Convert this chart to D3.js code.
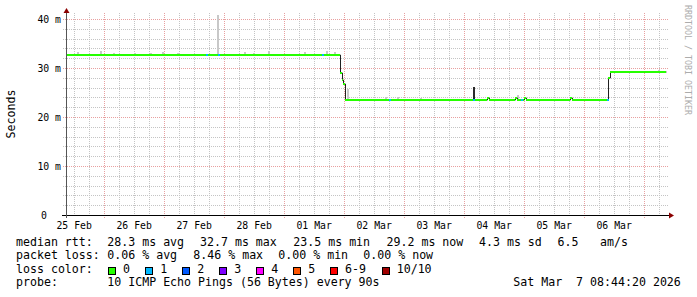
<!DOCTYPE html>
<html>
<head>
<meta charset="utf-8">
<script src="https://cdn.jsdelivr.net/npm/d3@7"></script>
<style>
  html, body { margin: 0; padding: 0; background: #fff; }
  svg { display: block; }
  text { font-family: "DejaVu Sans Mono", monospace; fill: #000; }
</style>
</head>
<body>
<svg id="chart" width="697" height="297"></svg>
<script>
// === Data ===
const startTime = "2026-02-25T08:44:20Z";
const endTime = "2026-03-07T08:44:20Z";

// median rtt in ms, step changes
const medianTimes = [
  "2026-02-25T08:44:20Z", "2026-03-01T22:12Z", "2026-03-01T23:05Z", "2026-03-01T23:36Z",
  "2026-03-02T00:12Z", "2026-03-04T09:12Z", "2026-03-04T10:00Z", "2026-03-04T20:12Z",
  "2026-03-04T21:00Z", "2026-03-04T23:48Z", "2026-03-05T00:36Z", "2026-03-05T18:12Z",
  "2026-03-05T19:00Z", "2026-03-06T09:36Z", "2026-03-06T10:31Z", "2026-03-07T08:44:20Z"
];
const medianValues = [
  32.7, 28.9, 27.5, 26.7,
  23.5, 23.9, 23.5, 23.9,
  23.5, 23.9, 23.5, 23.9,
  23.5, 27.9, 29.2, 29.2
];

// samples with lost pings (out of 10)
const lossTimes = [
  "2026-02-27T16:48Z", "2026-02-27T21:24Z", "2026-03-01T15:04Z", "2026-03-02T17:53Z",
  "2026-03-04T03:24Z", "2026-03-04T22:36Z", "2026-03-06T09:04Z"
];
const lossCounts = [1, 1, 1, 1, 1, 1, 1];

// smoke (spread of the pings), top value in ms
const smokeTimes = [
  "2026-02-25T13:12Z", "2026-02-25T22:24Z", "2026-02-26T03:36Z", "2026-02-26T12:00Z",
  "2026-02-26T18:24Z", "2026-02-26T23:12Z", "2026-02-27T05:12Z", "2026-02-27T21:12Z",
  "2026-02-28T08:00Z", "2026-02-28T11:36Z", "2026-02-28T17:36Z", "2026-03-01T08:00Z",
  "2026-03-01T16:48Z", "2026-03-01T20:00Z", "2026-03-02T01:00Z", "2026-03-02T16:24Z",
  "2026-03-02T21:00Z", "2026-03-03T06:24Z", "2026-03-04T03:24Z", "2026-03-04T21:12Z",
  "2026-03-07T05:36Z"
];
const smokeTops = [
  33.3, 33.5, 33.1, 33.1,
  33.1, 33.2, 33.0, 40.8,
  33.3, 33.1, 33.4, 33.3,
  33.4, 33.2, 25.8, 24.0,
  24.0, 23.9, 26.1, 24.5,
  29.6
];
const smokeDark = [
  false, false, false, false,
  false, false, false, false,
  false, false, false, false,
  false, false, false, false,
  false, false, true, false,
  false
];

const yTicks = [0, 10, 20, 30, 40];
const dayLabels = [
  "2026-02-25", "2026-02-26", "2026-02-27", "2026-02-28", "2026-03-01",
  "2026-03-02", "2026-03-03", "2026-03-04", "2026-03-05", "2026-03-06"
];

const lossLabels = ["0", "1", "2", "3", "4", "5", "6-9", "10/10"];
const lossColors = ["#26ff00", "#00b8ff", "#0059ff", "#7e00ff", "#ff00ff", "#ff5500", "#ff0000", "#a10000"];

const rttLegend = ["28.3 ms avg", "32.7 ms max", "23.5 ms min", "29.2 ms now", "4.3 ms sd", "6.5", "am/s"];
const lossLegend = ["0.06 % avg", "8.46 % max", "0.00 % min", "0.00 % now"];
const probeText = "10 ICMP Echo Pings (56 Bytes) every 90s";
const stampText = "Sat Mar  7 08:44:20 2026";


// === Layout ===
const svg = d3.select("#chart");
const plotTop = 13;
const plotBottom = 215;

const xScale = d3.scaleUtc()
  .domain([new Date(startTime), new Date(endTime)])
  .range([66, 666]);

const yScale = d3.scaleLinear()
  .domain([0, 40])
  .range([215, 19]);

const px = v => Math.round(v) + 0.5;   // crisp 1px lines

const medianDates = medianTimes.map(t => new Date(t));
function medianAt(date) {
  const i = Math.max(0, d3.bisectRight(medianDates, date) - 1);
  return medianValues[i];
}
function lossIndex(count) {
  if (count >= 10) return 7;
  if (count >= 6) return 6;
  return count;
}
const sampleMs = 48 * 60 * 1000;


// === Grid ===
const grid = svg.append("g");
const start = new Date(startTime), end = new Date(endTime);

// minor: every 2 ms / every 6 h
d3.range(2, 41, 2).filter(v => v % 10 !== 0).forEach(v => {
  grid.append("line")
    .attr("x1", 63).attr("x2", 669)
    .attr("y1", px(yScale(v))).attr("y2", px(yScale(v)))
    .attr("stroke", "#c4c4c4").attr("stroke-dasharray", "1,1");
});
d3.utcHour.every(6).range(start, end).filter(d => d.getUTCHours() !== 0).forEach(d => {
  grid.append("line")
    .attr("x1", px(xScale(d))).attr("x2", px(xScale(d)))
    .attr("y1", plotTop).attr("y2", 217)
    .attr("stroke", "#c4c4c4").attr("stroke-dasharray", "1,1");
});

// major: every 10 ms / every day
yTicks.filter(v => v > 0).forEach(v => {
  grid.append("line")
    .attr("x1", 63).attr("x2", 669)
    .attr("y1", px(yScale(v))).attr("y2", px(yScale(v)))
    .attr("stroke", "#e8a0a0").attr("stroke-dasharray", "1,1");
});
d3.utcDay.range(start, end).forEach(d => {
  grid.append("line")
    .attr("x1", px(xScale(d))).attr("x2", px(xScale(d)))
    .attr("y1", plotTop).attr("y2", 218)
    .attr("stroke", "#e8a0a0").attr("stroke-dasharray", "1,1");
});


// === Smoke ===
smokeTimes.forEach((t, i) => {
  const d = new Date(t);
  const x0 = Math.round(xScale(d));
  const yTop = Math.round(yScale(smokeTops[i]));
  const yBase = Math.round(yScale(medianAt(d)));
  svg.append("rect")
    .attr("x", x0)
    .attr("y", yTop)
    .attr("width", 2)
    .attr("height", Math.max(1, yBase - yTop))
    .attr("fill", smokeDark[i] ? "#2a2a2a" : "#c8c8c8");
});


// === Median line (dark connector) ===
const stepLine = d3.line()
  .x(d => px(xScale(d.date)))
  .y(d => Math.round(yScale(d.value)))
  .curve(d3.curveStepAfter);

const medianData = medianDates.map((date, i) => ({ date, value: medianValues[i] }));

svg.append("path")
  .datum(medianData)
  .attr("d", stepLine)
  .attr("fill", "none")
  .attr("stroke", "#202020")
  .attr("stroke-width", 1);

// loss coloured median segments
medianData.slice(0, -1).forEach((d, i) => {
  const next = medianData[i + 1];
  svg.append("line")
    .attr("x1", Math.round(xScale(d.date)))
    .attr("x2", Math.round(xScale(next.date)))
    .attr("y1", Math.round(yScale(d.value)))
    .attr("y2", Math.round(yScale(d.value)))
    .attr("stroke", lossColors[0])
    .attr("stroke-width", 2);
});

lossTimes.forEach((t, i) => {
  const d = new Date(t);
  const y = Math.round(yScale(medianAt(d)));
  svg.append("line")
    .attr("x1", Math.round(xScale(d)))
    .attr("x2", Math.round(xScale(new Date(+d + sampleMs))))
    .attr("y1", y).attr("y2", y)
    .attr("stroke", lossColors[lossIndex(lossCounts[i])])
    .attr("stroke-width", 2);
});


// === Axes ===
svg.append("line")
  .attr("x1", 62).attr("x2", 670)
  .attr("y1", 215.5).attr("y2", 215.5)
  .attr("stroke", "#000");
svg.append("line")
  .attr("x1", 66.5).attr("x2", 66.5)
  .attr("y1", 218).attr("y2", 10)
  .attr("stroke", "#555");

// arrows
svg.append("path")
  .attr("d", "M669,212.5 L674,215.5 L669,218.5 Z")
  .attr("fill", "#8b0000");
svg.append("path")
  .attr("d", "M63.5,13 L66.5,8 L69.5,13 Z")
  .attr("fill", "#8b0000");

// y tick labels
yTicks.forEach(v => {
  svg.append("text")
    .attr("x", v === 0 ? 47 : 61)
    .attr("y", yScale(v) + 3.5)
    .attr("text-anchor", "end")
    .style("font-size", "9.8px")
    .text(v === 0 ? "0" : `${v} m`);
});

// x tick labels (centred on noon)
const dayFormat = d3.utcFormat("%d %b");
dayLabels.forEach(day => {
  const noon = new Date(day + "T12:00:00Z");
  svg.append("text")
    .attr("x", xScale(noon))
    .attr("y", 228.5)
    .attr("text-anchor", "middle")
    .style("font-size", "9.8px")
    .text(dayFormat(noon));
});

// axis title
svg.append("text")
  .attr("transform", "translate(14.5,114) rotate(-90)")
  .attr("text-anchor", "middle")
  .style("font-size", "11.6px")
  .text("Seconds");

// watermark
svg.append("text")
  .attr("transform", "translate(685,5) rotate(90)")
  .style("font-size", "8.3px")
  .style("fill", "#acacac")
  .text("RRDTOOL / TOBI OETIKER");


// === Legend ===
const legend = svg.append("g").style("font-size", "11.6px");
const rowY = [245.5, 259, 272.5, 286];
const rttX = [107.3, 200, 293.3, 386.5, 479, 557.5, 600];
const lossX = [107.3, 193.3, 278.3, 363.3];
const swatchX = [108, 145.3, 182.3, 219.3, 256.3, 293.3, 330, 381.7];

legend.append("text").attr("x", 16).attr("y", rowY[0]).text("median rtt:");
rttLegend.forEach((s, i) => {
  legend.append("text").attr("x", rttX[i]).attr("y", rowY[0]).text(s);
});

legend.append("text").attr("x", 16).attr("y", rowY[1]).text("packet loss:");
lossLegend.forEach((s, i) => {
  legend.append("text").attr("x", lossX[i]).attr("y", rowY[1]).text(s);
});

legend.append("text").attr("x", 16).attr("y", rowY[2]).text("loss color:");
lossLabels.forEach((s, i) => {
  legend.append("rect")
    .attr("x", Math.round(swatchX[i]) + 0.5)
    .attr("y", 267.5)
    .attr("width", 7).attr("height", 7)
    .attr("fill", lossColors[i])
    .attr("stroke", "#000");
  legend.append("text")
    .attr("x", swatchX[i] + 15)
    .attr("y", rowY[2])
    .text(s);
});

legend.append("text").attr("x", 16).attr("y", rowY[3]).text("probe:");
legend.append("text").attr("x", 107.3).attr("y", rowY[3]).text(probeText);
legend.append("text")
  .attr("x", 513.3).attr("y", rowY[3])
  .attr("xml:space", "preserve")
  .style("white-space", "pre")
  .text(stampText);
</script>
</body>
</html>
